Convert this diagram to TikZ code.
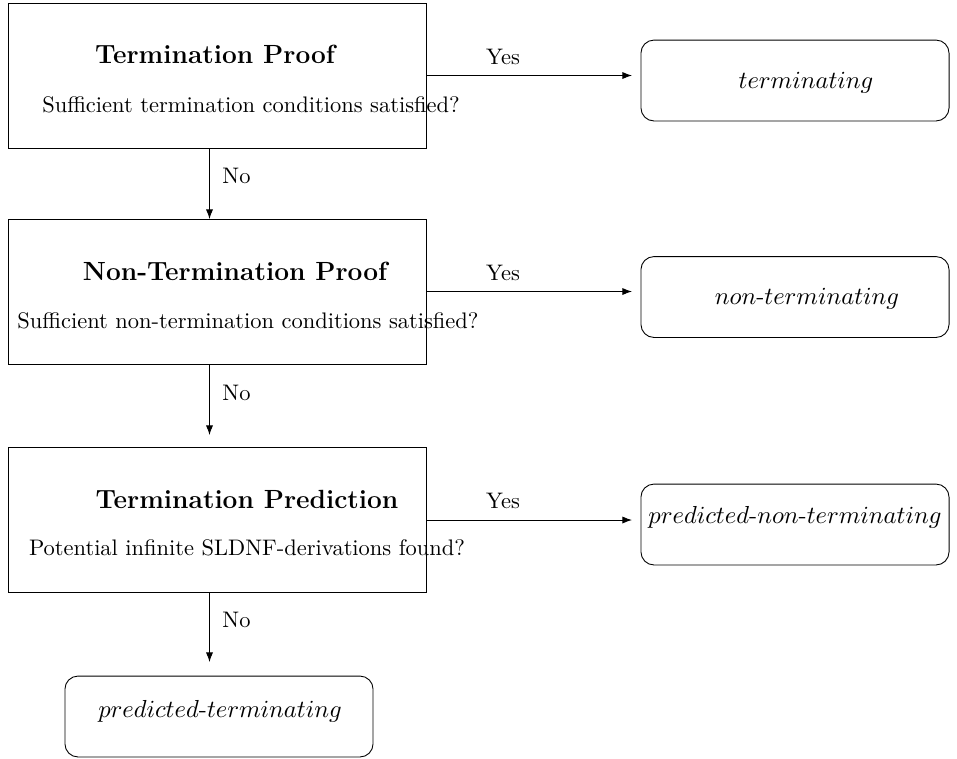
\documentclass[tikz,border=0pt]{standalone}
\usetikzlibrary{arrows.meta}
\begin{document}
\begin{tikzpicture}[x=0.445pt,y=-0.445pt,
  stagebox/.style={draw, minimum width=186pt, minimum height=64.5pt, inner sep=0pt},
  resultbox/.style={draw, rounded corners=5.8pt, minimum width=137.1pt, minimum height=36pt, inner sep=0pt},
  titletext/.style={anchor=base, inner sep=0pt, font=\fontsize{11.7}{14}\selectfont\bfseries},
  subtext/.style={anchor=base, inner sep=0pt, font=\fontsize{10}{12}\selectfont},
  restext/.style={anchor=base, inner sep=0pt, font=\fontsize{11}{13}\selectfont},
  edgelabel/.style={inner sep=0pt, font=\fontsize{10}{12}\selectfont},
  flow/.style={-{Latex[length=4.3pt,width=3.2pt]}}]
\useasboundingbox (0,0) rectangle (957,758);

% stage boxes
\node[stagebox] (p1) at (217,75.5) {};
\node[titletext] (t1) at (215,63) {Termination Proof};
\node[subtext] (s1) at (251,112) {Sufficient termination conditions satisfied?};

\node[stagebox] (p2) at (217,291.5) {};
\node[titletext] (t2) at (235,280) {Non-Termination Proof};
\node[subtext] (s2) at (248,328) {Sufficient non-termination conditions satisfied?};

\node[stagebox] (p3) at (217,520) {};
\node[titletext] (t3) at (247,508) {Termination Prediction};
\node[subtext] (s3) at (247,555) {Potential infinite SLDNF-derivations found?};

% result boxes
\node[resultbox] (r1) at (795,80.5) {};
\node[restext] (rt1) at (806,88) {$terminating$};
\node[resultbox] (r2) at (795,297) {};
\node[restext] (rt2) at (807,304) {$non$-$terminating$};
\node[resultbox] (r3) at (795,524.5) {};
\node[restext] (rt3) at (795,523) {$predicted$-$non$-$terminating$};
\node[resultbox] (r4) at (219,716.5) {};
\node[restext] (rt4) at (220,717) {$predicted$-$terminating$};

% Yes arrows
\coordinate (ye1) at (632,75.5);
\coordinate (ye2) at (632,291.5);
\coordinate (ye3) at (632,520);
\draw[flow] (p1.east) -- (ye1);
\draw[flow] (p2.east) -- (ye2);
\draw[flow] (p3.east) -- (ye3);
\node[edgelabel, anchor=base] (yl1) at (503,64) {Yes};
\node[edgelabel, anchor=base] (yl2) at (503,280) {Yes};
\node[edgelabel, anchor=base] (yl3) at (503,508.3) {Yes};

% No arrows
\coordinate (ns1) at (209.5,148);
\coordinate (ne1) at (209.5,219);
\coordinate (ns2) at (209.5,364);
\coordinate (ne2) at (209.5,435);
\coordinate (ns3) at (209.5,593);
\coordinate (ne3) at (209.5,662);
\draw[flow] (ns1) -- (ne1);
\draw[flow] (ns2) -- (ne2);
\draw[flow] (ns3) -- (ne3);
\node[edgelabel, anchor=base west] (nl1) at (222,183.3) {No};
\node[edgelabel, anchor=base west] (nl2) at (222,400) {No};
\node[edgelabel, anchor=base west] (nl3) at (222,627.7) {No};
\end{tikzpicture}
\end{document}
